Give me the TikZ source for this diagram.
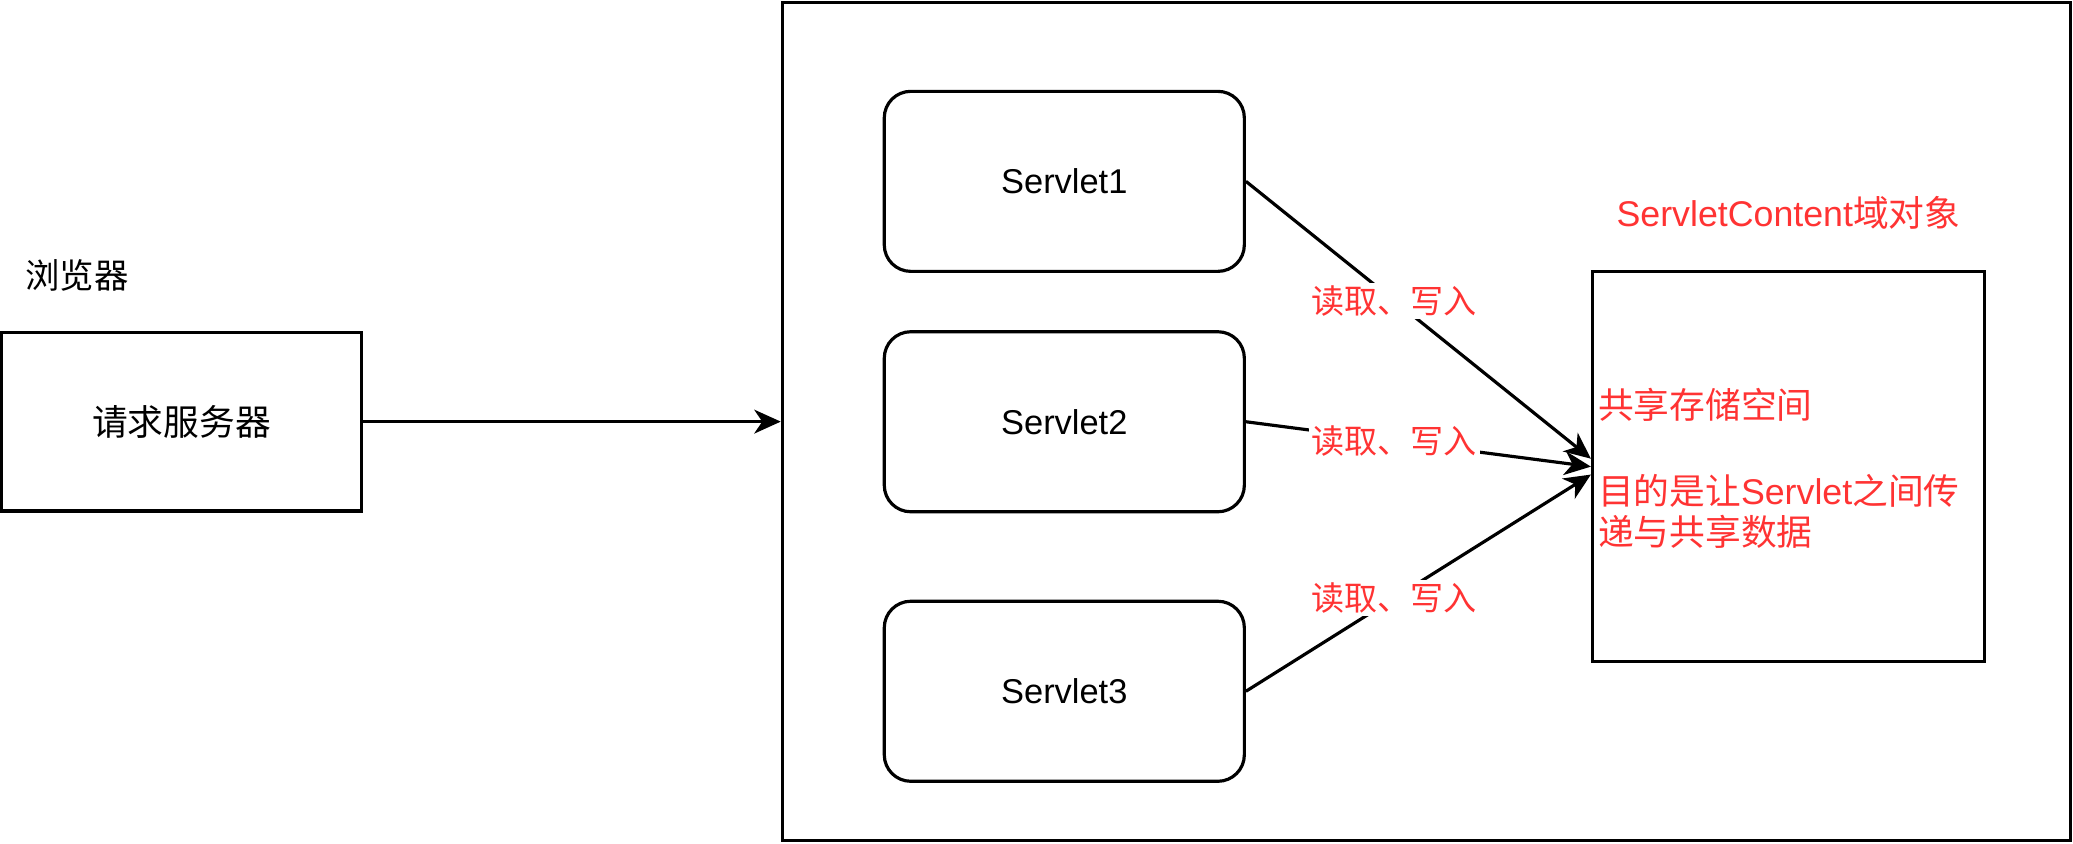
\documentclass[tikz,border=0pt]{standalone}
\usepackage{fontspec}
\setmainfont{Liberation Sans}
\newfontfamily\cjk{Noto Sans CJK SC}
\usetikzlibrary{arrows.meta,positioning}
\definecolor{labelred}{HTML}{FF3333}

\begin{document}
\begin{tikzpicture}[x=0.5pt,y=-0.5pt,->,>={Stealth[length=10pt,width=9pt,inset=3pt]},
                    line width=1.2pt]
  \useasboundingbox (0,0) rectangle (1566,637);
  \tikzstyle{plainbox}=[draw,rectangle,inner sep=0pt]
  \tikzstyle{servlet}=[draw,rectangle,rounded corners=10pt,minimum width=136pt,minimum height=68pt,
                       font=\fontsize{13}{15}\selectfont]
  \tikzstyle{rw}=[fill=white,text=labelred,inner sep=1pt,font=\cjk\fontsize{12.5}{15}\selectfont]

  \node[plainbox,minimum width=135.9pt,minimum height=67.5pt] (req) at (137.1,318.5)
        {\cjk\fontsize{13.5}{16}\selectfont 请求服务器};
  \node[anchor=west,inner sep=0pt] (browser) at (18,208) {\cjk\fontsize{13}{16}\selectfont 浏览器};

  \node[plainbox,minimum width=486.5pt,minimum height=316.5pt] (server) at (1077.5,318.5) {};

  \node[servlet] (s1) at (804,137) {Servlet1};
  \node[servlet] (s2) [below=21.6pt of s1] {Servlet2};
  \node[servlet] (s3) [below=32.6pt of s2] {Servlet3};

  \node[plainbox,minimum width=148pt,minimum height=147.5pt] (store) at (1351,352.5) {};
  \node[text=labelred,font=\fontsize{13.5}{16}\selectfont] (title) at (1351,161)
        {ServletContent{\cjk 域对象}};
  \node[anchor=west,align=left,inner sep=0pt,text=labelred,font=\fontsize{13.5}{15.5}\selectfont]
        (storetext) at (1206,354)
        {{\cjk 共享存储空间}\\[17pt]{\cjk 目的是让}Servlet{\cjk 之间传}\\{\cjk 递与共享数据}};

  \draw (req.east) -- (server.west);
  \draw (s1.east) -- node[rw,pos=0.43] {读取、写入} ([yshift=3pt]store.west);
  \draw (s2.east) -- node[rw,pos=0.43] {读取、写入} (store.west);
  \draw (s3.east) -- node[rw,pos=0.43] {读取、写入} ([yshift=-3pt]store.west);
\end{tikzpicture}
\end{document}
